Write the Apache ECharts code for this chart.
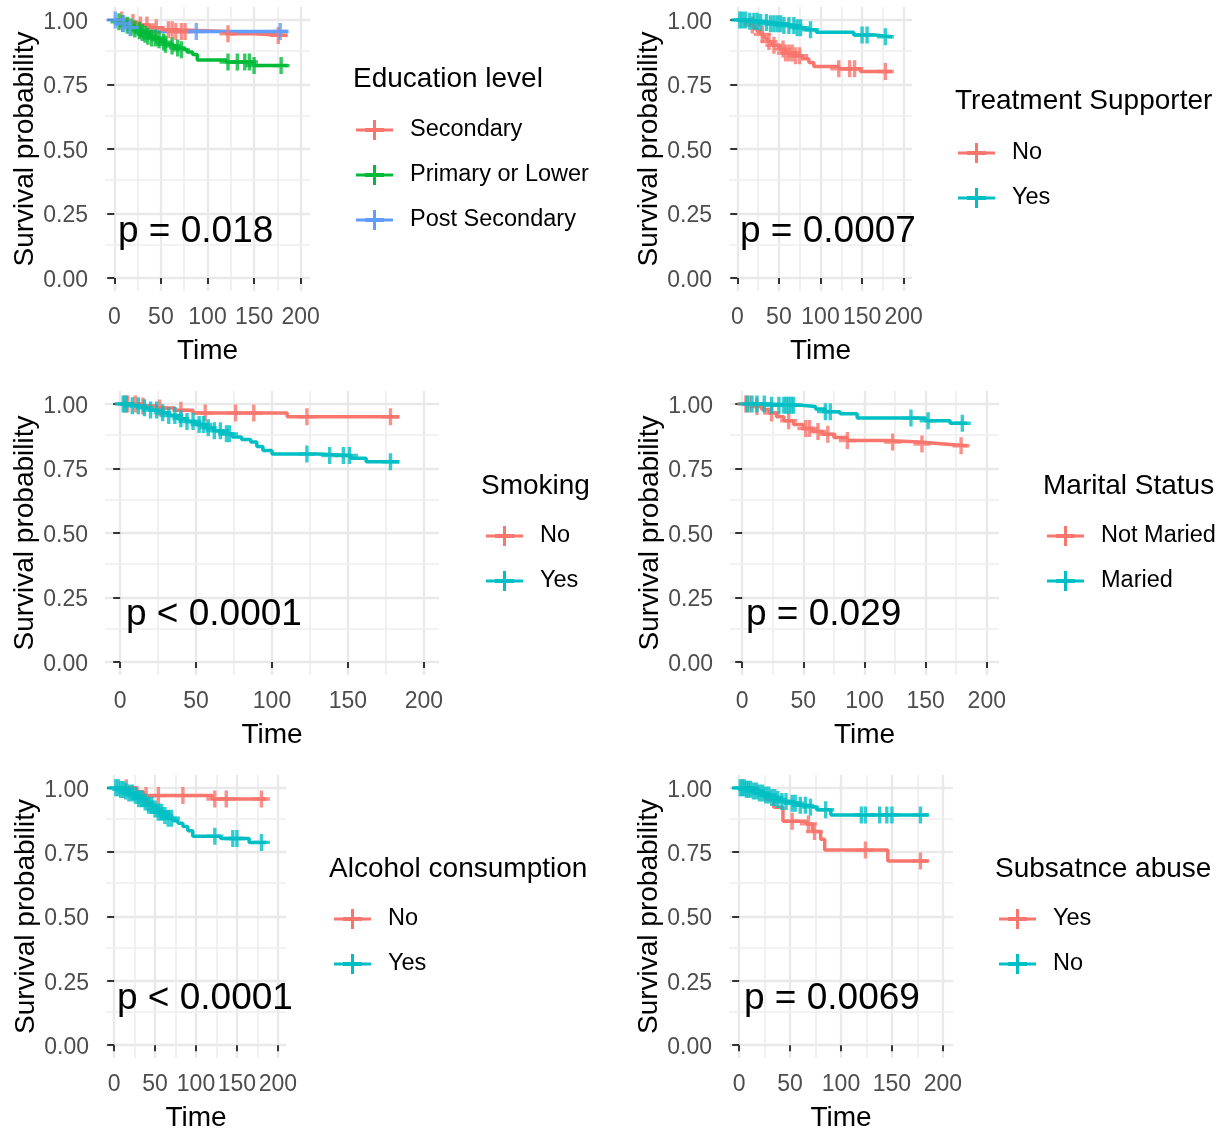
<!DOCTYPE html>
<html><head><meta charset="utf-8">
<script src="https://cdn.jsdelivr.net/npm/echarts@6/dist/echarts.min.js"></script>
<style>html,body{margin:0;padding:0;background:#fff}#c{width:1223px;height:1130px}</style>
</head><body><div id="c"></div>
<script>
// ---------- DATA ----------
// Panel 1: Education level
const eduSecondaryTime = [0, 14, 26, 38, 52, 66, 120, 150, 186];
const eduSecondarySurv = [1, 0.99, 0.98, 0.97, 0.962, 0.955, 0.946, 0.94, 0.94];
const eduSecondaryCens = [8, 20, 28, 35, 45, 58, 62, 66, 72, 76, 122, 176];
const eduPrimaryTime = [0, 4, 8, 12, 16, 20, 24, 28, 32, 36, 40, 45, 50, 55, 60, 66, 72, 78, 84, 89, 120, 150, 186];
const eduPrimarySurv = [1, 0.993, 0.986, 0.979, 0.972, 0.965, 0.958, 0.951, 0.944, 0.937, 0.93, 0.923, 0.914, 0.906, 0.899, 0.891, 0.884, 0.876, 0.866, 0.845, 0.837, 0.823, 0.823];
const eduPrimaryCens = [5, 9, 14, 18, 22, 27, 30, 33, 36, 40, 44, 48, 53, 55, 62, 68, 72, 122, 132, 140, 145, 150, 179];
const eduPostTime = [0, 7, 14, 24, 186];
const eduPostSurv = [1, 0.985, 0.97, 0.955, 0.955];
const eduPostCens = [1, 10, 17, 88, 178];

// Panel 2: Treatment Supporter
const tsNoTime = [0, 10, 16, 20, 24, 28, 32, 36, 42, 50, 58, 68, 78, 86, 92, 122, 148, 186];
const tsNoSurv = [1, 0.99, 0.98, 0.966, 0.955, 0.944, 0.93, 0.916, 0.902, 0.887, 0.872, 0.861, 0.85, 0.835, 0.82, 0.811, 0.8, 0.8];
const tsNoCens = [18, 30, 38, 44, 55, 58, 62, 66, 70, 75, 122, 135, 141, 178];
const tsYesTime = [0, 12, 25, 40, 55, 70, 82, 95, 140, 165, 186];
const tsYesSurv = [1, 0.995, 0.99, 0.985, 0.978, 0.97, 0.962, 0.952, 0.942, 0.935, 0.935];
const tsYesCens = [3, 6, 10, 15, 20, 24, 28, 35, 40, 44, 48, 52, 56, 62, 68, 72, 76, 88, 150, 156, 178];

// Panel 3: Smoking
const smNoTime = [0, 14, 24, 36, 48, 110, 184];
const smNoSurv = [1, 0.992, 0.984, 0.975, 0.965, 0.95, 0.95];
const smNoCens = [3, 5, 10, 15, 26, 40, 56, 76, 88, 123, 178];
const smYesTime = [0, 8, 14, 20, 26, 32, 38, 44, 50, 56, 62, 68, 74, 80, 86, 90, 94, 100, 130, 152, 162, 184];
const smYesSurv = [1, 0.993, 0.985, 0.976, 0.966, 0.955, 0.943, 0.932, 0.92, 0.908, 0.896, 0.884, 0.872, 0.862, 0.852, 0.835, 0.82, 0.806, 0.8, 0.79, 0.776, 0.776];
const smYesCens = [2, 4, 8, 12, 16, 20, 24, 28, 32, 36, 40, 44, 48, 52, 55, 58, 62, 66, 70, 72, 123, 138, 147, 151, 178];

// Panel 4: Marital Status
const msNotTime = [0, 10, 16, 22, 28, 34, 42, 50, 58, 66, 75, 86, 118, 145, 165, 184];
const msNotSurv = [1, 0.99, 0.978, 0.965, 0.95, 0.935, 0.92, 0.905, 0.893, 0.882, 0.87, 0.858, 0.852, 0.845, 0.838, 0.838];
const msNotCens = [3, 6, 12, 24, 38, 52, 55, 62, 70, 86, 123, 147, 179];
const msMarTime = [0, 20, 48, 60, 68, 80, 94, 150, 170, 184];
const msMarSurv = [1, 0.995, 0.99, 0.98, 0.97, 0.962, 0.945, 0.935, 0.925, 0.925];
const msMarCens = [4, 8, 12, 18, 24, 30, 34, 36, 38, 40, 42, 68, 72, 138, 152, 180];

// Panel 5: Alcohol consumption
const alNoTime = [0, 28, 36, 120, 186];
const alNoSurv = [1, 0.985, 0.97, 0.957, 0.957];
const alNoCens = [15, 39, 54, 84, 123, 137, 180];
const alYesTime = [0, 6, 12, 18, 24, 30, 36, 42, 48, 54, 60, 66, 72, 78, 84, 90, 96, 130, 165, 186];
const alYesSurv = [1, 0.994, 0.988, 0.98, 0.97, 0.958, 0.945, 0.932, 0.918, 0.905, 0.893, 0.882, 0.872, 0.862, 0.85, 0.833, 0.812, 0.803, 0.788, 0.788];
const alYesCens = [2, 5, 8, 11, 14, 18, 22, 26, 30, 34, 38, 42, 46, 50, 54, 58, 62, 66, 70, 123, 145, 150, 180];

// Panel 6: Subsatnce abuse
const saYesTime = [0, 18, 26, 34, 43, 66, 72, 80, 84, 146, 186];
const saYesSurv = [1, 0.98, 0.955, 0.925, 0.87, 0.86, 0.83, 0.8, 0.758, 0.716, 0.716];
const saYesCens = [52, 68, 74, 124, 178];
const saNoTime = [0, 6, 12, 18, 24, 30, 36, 42, 50, 58, 66, 76, 90, 186];
const saNoSurv = [1, 0.995, 0.988, 0.98, 0.972, 0.963, 0.955, 0.947, 0.94, 0.932, 0.925, 0.915, 0.895, 0.895];
const saNoCens = [1, 3, 5, 7, 9, 11, 14, 17, 20, 23, 26, 29, 32, 35, 38, 42, 46, 52, 55, 60, 65, 70, 85, 120, 124, 138, 145, 150, 178];

// Tick labels
const xTicks = [0, 50, 100, 150, 200];
const yTicks = [0, 0.25, 0.5, 0.75, 1];
const xMinor = [25, 75, 125, 175];
const yMinor = [0.125, 0.375, 0.625, 0.875];

// Legend titles and p-values
const legendTitles = ['Education level', 'Treatment Supporter', 'Smoking', 'Marital Status', 'Alcohol consumption', 'Subsatnce abuse'];
const pTexts = ['p = 0.018', 'p = 0.0007', 'p < 0.0001', 'p = 0.029', 'p < 0.0001', 'p = 0.0069'];

// ---------- STYLE / LAYOUT ----------
const RED = '#F8766D', GREEN = '#00BA38', BLUE = '#619CFF', TEAL = '#00BFC4';
const FONT = '"Liberation Sans", Arial, sans-serif';

const panels = [
  { groups: [['Secondary', eduSecondaryTime, eduSecondarySurv, eduSecondaryCens, RED],
             ['Primary or Lower', eduPrimaryTime, eduPrimarySurv, eduPrimaryCens, GREEN],
             ['Post Secondary', eduPostTime, eduPostSurv, eduPostCens, BLUE]],
    grid: {left: 105, top: 7, width: 205, height: 284}, lt: [353, 65], lg: [356, 118], pv: [118, 213] },
  { groups: [['No', tsNoTime, tsNoSurv, tsNoCens, RED],
             ['Yes', tsYesTime, tsYesSurv, tsYesCens, TEAL]],
    grid: {left: 729, top: 7, width: 183, height: 284}, lt: [955, 87], lg: [958, 141], pv: [740, 213] },
  { groups: [['No', smNoTime, smNoSurv, smNoCens, RED],
             ['Yes', smYesTime, smYesSurv, smYesCens, TEAL]],
    grid: {left: 105, top: 391, width: 334, height: 284}, lt: [481, 472], lg: [486, 524], pv: [126, 596] },
  { groups: [['Not Maried', msNotTime, msNotSurv, msNotCens, RED],
             ['Maried', msMarTime, msMarSurv, msMarCens, TEAL]],
    grid: {left: 730, top: 391, width: 269, height: 284}, lt: [1043, 472], lg: [1047, 524], pv: [746, 596] },
  { groups: [['No', alNoTime, alNoSurv, alNoCens, RED],
             ['Yes', alYesTime, alYesSurv, alYesCens, TEAL]],
    grid: {left: 106, top: 775, width: 180, height: 283}, lt: [329, 855], lg: [334, 907], pv: [117, 980] },
  { groups: [['Yes', saYesTime, saYesSurv, saYesCens, RED],
             ['No', saNoTime, saNoSurv, saNoCens, TEAL]],
    grid: {left: 729, top: 775, width: 224, height: 283}, lt: [995, 855], lg: [999, 907], pv: [744, 980] }
];

const PLUS = 'path://M8,0 L12,0 L12,8 L20,8 L20,12 L12,12 L12,20 L8,20 L8,12 L0,12 L0,8 L8,8 Z';
const KEY = 'path://M0,8.5 L37,8.5 L37,11.5 L0,11.5 Z M17,0 L20,0 L20,20 L17,20 Z M9,8 L28,8 L28,12 L9,12 Z';

function stepAt(times, surv, t) {
  let v = surv[0];
  for (let i = 0; i < times.length; i++) { if (times[i] <= t) v = surv[i]; }
  return v;
}

const grids = [], xAxes = [], yAxes = [], series = [], legends = [], titles = [];
const MAJ = {color: '#e9e9e9', width: 2.4, type: 'solid'};
const MIN = {color: '#eeeeee', width: 1.6, type: 'solid'};

panels.forEach((p, i) => {
  grids.push(Object.assign({outerBoundsMode: 'none', containLabel: false}, p.grid));
  xAxes.push({
    type: 'value', gridIndex: i, min: -10, max: 210,
    axisLine: {show: false},
    axisTick: {show: true, customValues: xTicks, length: 6, lineStyle: {color: '#333', width: 2}},
    axisLabel: {customValues: xTicks, fontSize: 23, color: '#4d4d4d', fontFamily: FONT, margin: 15, hideOverlap: false},
    splitLine: {show: false},
    name: 'Time', nameLocation: 'middle', nameGap: 46,
    nameTextStyle: {fontSize: 28, color: '#000', fontFamily: FONT}
  });
  yAxes.push({
    type: 'value', gridIndex: i, min: -0.05, max: 1.05,
    axisLine: {show: false},
    axisTick: {show: true, customValues: yTicks, length: 7, lineStyle: {color: '#333', width: 2}},
    axisLabel: {customValues: yTicks, fontFamily: FONT, margin: 17,
      formatter: v => '{t|' + v.toFixed(2) + '}',
      rich: {t: {fontSize: 23, color: '#4d4d4d', fontFamily: FONT, padding: [5, 0, 0, 0]}}},
    splitLine: {show: false},
    name: 'Survival probability', nameLocation: 'middle', nameGap: 64,
    nameTextStyle: {fontSize: 28, color: '#000', fontFamily: FONT}
  });
  // background grid lines, positioned through the axes via markLine
  const ml = [];
  xTicks.forEach(v => ml.push({xAxis: v, lineStyle: MAJ}));
  xMinor.forEach(v => ml.push({xAxis: v, lineStyle: MIN}));
  yTicks.forEach(v => ml.push({yAxis: v, lineStyle: MAJ}));
  yMinor.forEach(v => ml.push({yAxis: v, lineStyle: MIN}));
  series.push({
    type: 'line', name: 'grid' + i, xAxisIndex: i, yAxisIndex: i, data: [[0, 1]],
    symbol: 'none', lineStyle: {opacity: 0}, silent: true, z: 0,
    markLine: {z: 0, silent: true, symbol: 'none', label: {show: false}, animation: false,
      emphasis: {disabled: true}, data: ml}
  });
  const legendData = [];
  p.groups.forEach(([name, times, surv, cens, color]) => {
    const key = 'p' + i + '|' + name;
    series.push({
      type: 'line', name: key, xAxisIndex: i, yAxisIndex: i, step: 'end',
      data: times.map((t, j) => [t, surv[j]]), symbol: 'none', showSymbol: false,
      lineStyle: {width: 3.5, color: color}, itemStyle: {color: color}, z: 3, animation: false
    });
    series.push({
      type: 'scatter', name: key, xAxisIndex: i, yAxisIndex: i,
      data: cens.map(t => [t, stepAt(times, surv, t)]), symbol: PLUS, symbolSize: 17,
      itemStyle: {color: color}, z: 4, animation: false
    });
    legendData.push({name: key, icon: KEY, itemStyle: {color: color, borderWidth: 0}});
  });
  legends.push({
    left: p.lg[0], top: p.lg[1], orient: 'vertical', padding: 0,
    itemWidth: 37, itemHeight: 20, itemGap: 21, selectedMode: false,
    data: legendData, formatter: n => n.split('|')[1],
    itemStyle: {borderWidth: 0},
    textStyle: {fontSize: 23.5, color: '#000', fontFamily: FONT, padding: [0, 0, 0, 12]}
  });
  titles.push({text: legendTitles[i], left: p.lt[0], top: p.lt[1], padding: 0,
    textStyle: {fontSize: 28, fontWeight: 'normal', color: '#000', fontFamily: FONT}});
  titles.push({text: pTexts[i], left: p.pv[0], top: p.pv[1], padding: 0,
    textStyle: {fontSize: 37, fontWeight: 'normal', color: '#000', fontFamily: FONT}});
});

const chart = echarts.init(document.getElementById('c'), null, {renderer: 'canvas'});
chart.setOption({
  animation: false,
  backgroundColor: '#fff',
  title: titles,
  legend: legends,
  grid: grids,
  xAxis: xAxes,
  yAxis: yAxes,
  series: series
});
</script>
</body></html>
